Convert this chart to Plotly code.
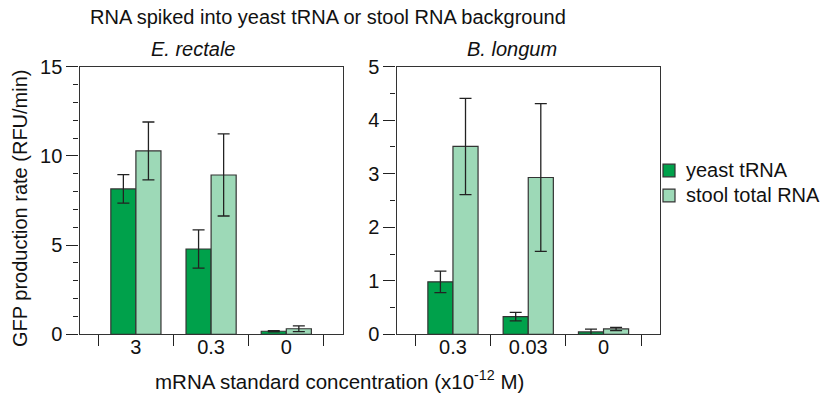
import plotly.graph_objects as go

W, H = 828, 398

# ---- data ----
series_names = ["yeast tRNA", "stool total RNA"]
series_colors = ["#00a14b", "#9dd9b7"]

left_title = "E. rectale"
left_categories = ["3", "0.3", "0"]
left_yeast = [8.15, 4.78, 0.17]
left_yeast_err = [0.80, 1.07, 0.03]
left_stool = [10.28, 8.93, 0.31]
left_stool_err = [1.62, 2.30, 0.16]

right_title = "B. longum"
right_categories = ["0.3", "0.03", "0"]
right_yeast = [0.98, 0.33, 0.045]
right_yeast_err = [0.20, 0.08, 0.05]
right_stool = [3.51, 2.93, 0.10]
right_stool_err = [0.90, 1.38, 0.03]

main_title = "RNA spiked into yeast tRNA or stool RNA background"
x_title = "mRNA standard concentration (x10<sup>-12</sup> M)"
y_title = "GFP production rate (RFU/min)"

FONT = "Liberation Sans, Arial, Helvetica, sans-serif"
INK = "#222222"
FS = 20

def px(x):
    return x / W

def py(y):
    return 1 - y / H

fig = go.Figure()

panels = [
    ("x", "y", left_categories, [left_yeast, left_stool], [left_yeast_err, left_stool_err]),
    ("x2", "y2", right_categories, [right_yeast, right_stool], [right_yeast_err, right_stool_err]),
]
for xa, ya, cats, vals, errs in panels:
    for i in range(2):
        fig.add_trace(go.Bar(
            x=cats, y=vals[i], xaxis=xa, yaxis=ya,
            name=series_names[i], showlegend=False,
            marker=dict(color=series_colors[i], line=dict(color="#333333", width=1.2)),
            error_y=dict(type="data", array=errs[i], visible=True,
                         color=INK, thickness=1.3, width=6),
        ))

ydom = [py(334.3), py(66.7)]
common_x = dict(type="category", range=[-0.75, 2.75], tickson="boundaries",
                ticks="outside", ticklen=11, tickwidth=1.2, tickcolor=INK,
                showline=True, linecolor="#333333", linewidth=1.3, mirror=True,
                showgrid=False, zeroline=False, automargin=False,
                tickfont=dict(family=FONT, size=FS, color="#111111"),
                ticklabelstandoff=-5, fixedrange=True)
common_y = dict(ticks="outside", ticklen=12, tickwidth=1.2, tickcolor=INK,
                showline=True, linecolor="#333333", linewidth=1.3, mirror=True,
                showgrid=False, zeroline=False, automargin=False,
                tickfont=dict(family=FONT, size=FS, color="#111111"),
                domain=ydom, fixedrange=True)

fig.update_layout(
    width=W, height=H,
    margin=dict(l=0, r=0, t=0, b=0),
    paper_bgcolor="white", plot_bgcolor="white",
    barmode="group", bargap=1/3, bargroupgap=0,
    showlegend=False,
    font=dict(family=FONT, size=FS, color="#111111"),
    xaxis=dict(common_x, domain=[px(79.5), px(342.7)], anchor="y"),
    xaxis2=dict(common_x, domain=[px(396.5), px(660)], anchor="y2"),
    yaxis=dict(common_y, range=[0, 15], tickvals=[0, 5, 10, 15], anchor="x",
               minor=dict(dtick=1, ticks="outside", ticklen=5, tickwidth=1.2, tickcolor=INK)),
    yaxis2=dict(common_y, range=[0, 5], tickvals=[0, 1, 2, 3, 4, 5], anchor="x2",
                minor=dict(dtick=0.5, ticks="outside", ticklen=5, tickwidth=1.2, tickcolor=INK)),
)

ann = []
ann.append(dict(text=main_title, x=px(328), y=py(17), xref="paper", yref="paper",
                showarrow=False, font=dict(size=FS), xanchor="center", yanchor="middle"))
ann.append(dict(text=f"<i>{left_title}</i>", x=px(193), y=py(49), xref="paper", yref="paper",
                showarrow=False, font=dict(size=FS), xanchor="center", yanchor="middle"))
ann.append(dict(text=f"<i>{right_title}</i>", x=px(512), y=py(49), xref="paper", yref="paper",
                showarrow=False, font=dict(size=FS), xanchor="center", yanchor="middle"))
ann.append(dict(text=x_title, x=px(339), y=py(380), xref="paper", yref="paper",
                showarrow=False, font=dict(size=20.5), xanchor="center", yanchor="middle"))
ann.append(dict(text=y_title, x=px(20), y=py(208), xref="paper", yref="paper", textangle=-90,
                showarrow=False, font=dict(size=FS), xanchor="center", yanchor="middle"))

# custom legend
shapes = []
leg_rows = [170.5, 195.5]
for i, name in enumerate(series_names):
    yc = leg_rows[i]
    shapes.append(dict(type="rect", xref="paper", yref="paper",
                       x0=px(663), x1=px(675), y0=py(yc - 6.3), y1=py(yc + 6.3),
                       fillcolor=series_colors[i], line=dict(color="#333333", width=1.2)))
    ann.append(dict(text=name, x=px(684), y=py(yc), xref="paper", yref="paper",
                    showarrow=False, font=dict(size=FS), xanchor="left", yanchor="middle"))

fig.update_layout(annotations=ann, shapes=shapes)
fig.write_html("out.html")
